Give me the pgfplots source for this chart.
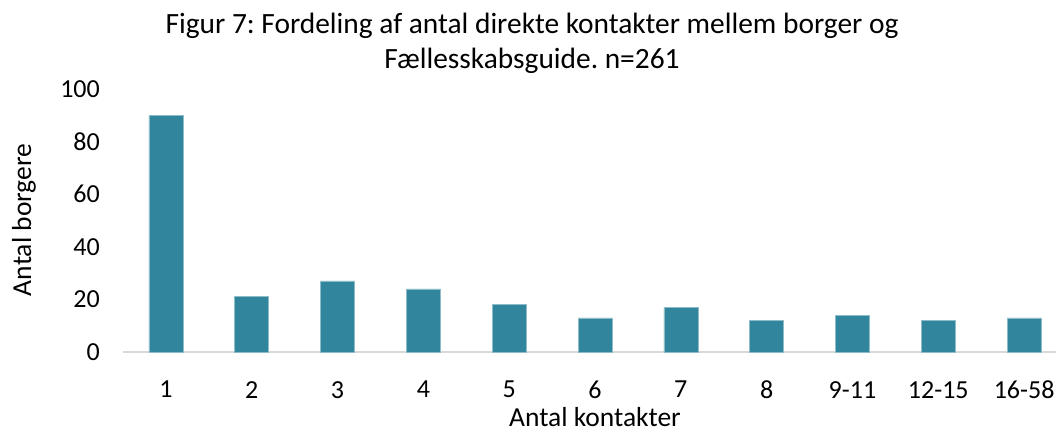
\documentclass[border=0pt]{standalone}
\usepackage{fontspec}
\setmainfont{Carlito}
\usepackage{pgfplots}
\pgfplotsset{compat=1.18}
\definecolor{barcol}{HTML}{31859C}
\definecolor{axisgray}{HTML}{D9D9D9}
\frenchspacing
\begin{document}
\begin{tikzpicture}[x=1pt,y=1pt]
\path[use as bounding box] (0,0) rectangle (1056,432);
\begin{axis}[
  at={(123pt,80pt)}, anchor=south west,
  scale only axis, width=944pt, height=263pt,
  xmin=-0.5, xmax=10.5, ymin=0, ymax=100,
  ytick={0,20,...,100},
  xtick={0,...,10},
  xticklabels={1,2,3,4,5,6,7,8,9-11,12-15,16-58},
  axis lines*=left,
  y axis line style={draw=none},
  x axis line style={draw=axisgray, line width=1.4pt},
  major tick length=0pt,
  tick label style={font=\fontsize{26}{30}\selectfont, text=black},
  /pgf/number format/assume math mode=true,
  yticklabel style={anchor=east, inner sep=0pt, xshift=-23pt},
  xticklabel style={anchor=north, inner sep=0pt, yshift=-29pt},
  ybar, bar width=34pt,
  clip=false,
]
\addplot[fill=barcol, draw=barcol!55!white, line width=0.6pt] coordinates {
(0,90) (1,21) (2,27) (3,24) (4,18) (5,13) (6,17) (7,12) (8,14) (9,12) (10,13)};
\end{axis}
\node[rotate=90, font=\fontsize{27.5}{30}\selectfont] at (24,212) {Antal borgere};
\node[anchor=base, font=\fontsize{27.5}{30}\selectfont] at (595,6) {Antal kontakter};
\node[anchor=base, font=\fontsize{29.4}{32}\selectfont] at (532,398) {Figur 7: Fordeling af antal direkte kontakter mellem borger og};
\node[anchor=base, font=\fontsize{29.4}{32}\selectfont] at (532,363) {Fællesskabsguide. n=261};
\end{tikzpicture}
\end{document}
